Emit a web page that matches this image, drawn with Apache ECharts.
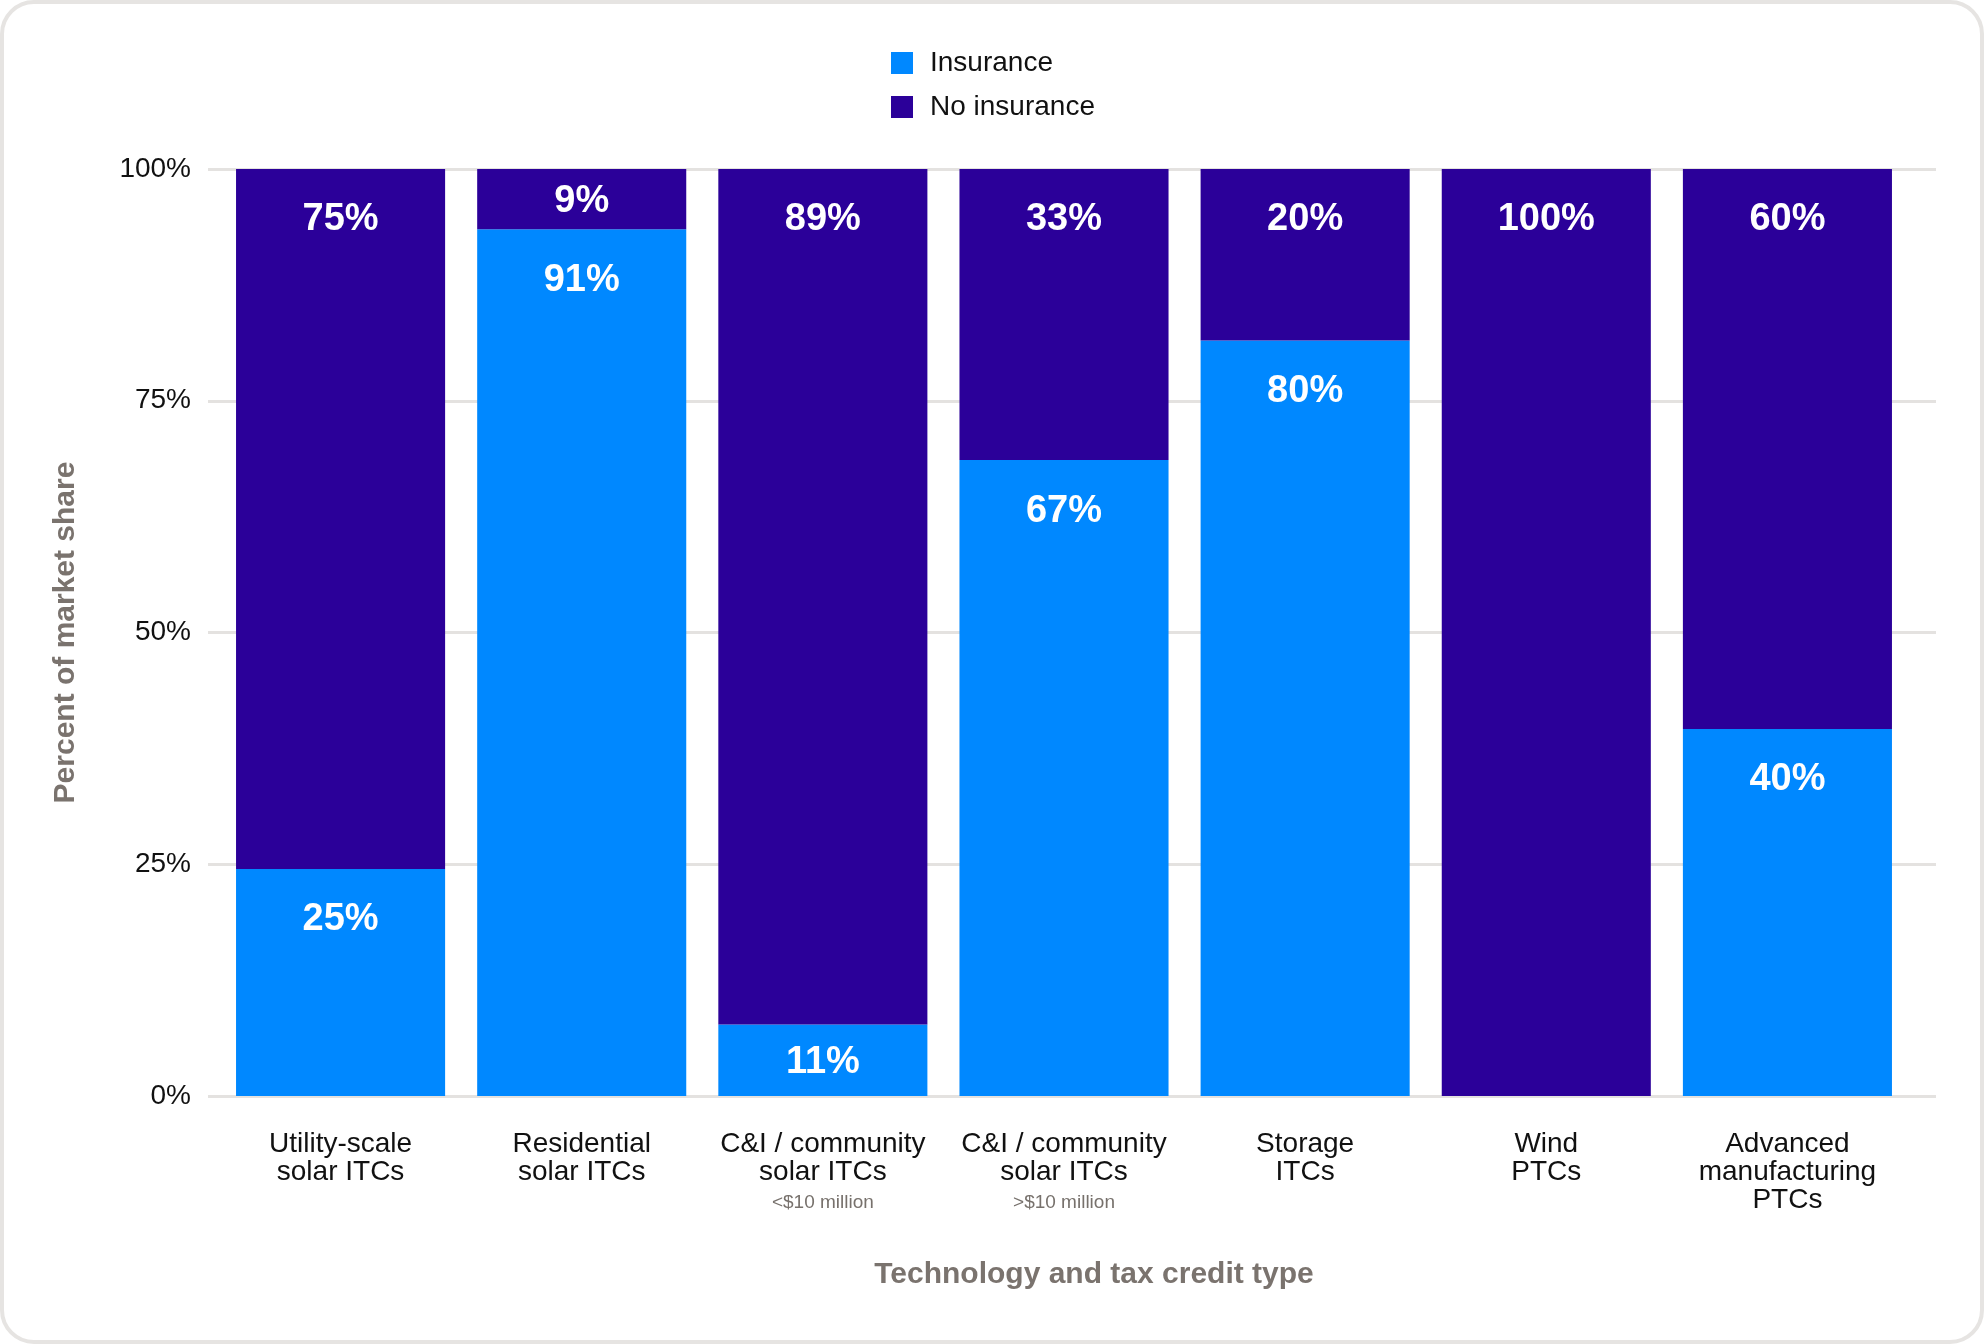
<!DOCTYPE html>
<html>
<head>
<meta charset="utf-8">
<script src="https://cdn.jsdelivr.net/npm/echarts@6/dist/echarts.min.js"></script>
<style>
html,body{margin:0;padding:0;background:#fff;}
#chart{width:1984px;height:1344px;}
</style>
</head>
<body>
<div id="chart"></div>
<script>
const categories = [
  "Utility-scale\nsolar ITCs",
  "Residential\nsolar ITCs",
  "C&I / community\nsolar ITCs",
  "C&I / community\nsolar ITCs",
  "Storage\nITCs",
  "Wind\nPTCs",
  "Advanced\nmanufacturing\nPTCs"
];
const categorySubtitles = ["", "", "<$10 million", ">$10 million", "", "", ""];
const insurance = [24.5, 93.5, 7.7, 68.6, 81.5, 0, 39.6];
const noInsurance = [75.5, 6.5, 92.3, 31.4, 18.5, 100, 60.4];
const insuranceLabels = ["25%", "91%", "11%", "67%", "80%", "", "40%"];
const noInsuranceLabels = ["75%", "9%", "89%", "33%", "20%", "100%", "60%"];
const yTicks = [0, 25, 50, 75, 100];
const seriesNames = ["Insurance", "No insurance"];

const FONT = '"Liberation Sans", Arial, Helvetica, sans-serif';
const C_INS = '#0088FF';
const C_NO = '#2B0099';

function buildData(values, labels) {
  return values.map((v, i) => ({
    value: v,
    label: v < 15
      ? {formatter: labels[i], position: 'inside', offset: [0, 2]}
      : {formatter: labels[i], position: 'insideTop'}
  }));
}

const chart = echarts.init(document.getElementById('chart'), null, {renderer: 'canvas'});
const option = {
  backgroundColor: '#fff',
  animation: false,
  graphic: [{
    type: 'rect',
    shape: {x: 2, y: 2, width: 1980, height: 1340, r: 32},
    style: {fill: 'none', stroke: '#e6e4e2', lineWidth: 4},
    z: -10
  }],
  legend: {
    orient: 'vertical',
    left: 886,
    top: 44,
    itemWidth: 22,
    itemHeight: 22,
    itemGap: 16,
    icon: 'rect',
    data: seriesNames,
    textStyle: {fontFamily: FONT, fontSize: 28, color: '#111', padding: [0, 0, 0, 12], lineHeight: 28}
  },
  grid: [
    {left: 208, right: 48, top: 169, bottom: 248},
    {left: 220, right: 76, top: 169, bottom: 248}
  ],
  xAxis: [
    {
      type: 'value', gridIndex: 0, min: 0, max: 1, show: false
    },
    {
      type: 'category', gridIndex: 1, data: categories,
      axisLine: {show: false}, axisTick: {show: false},
      axisLabel: {
        interval: 0, margin: 34,
        fontFamily: FONT, fontSize: 28, lineHeight: 28, color: '#111',
        formatter: function (value, idx) {
          const sub = categorySubtitles[idx];
          return sub ? value + '\n{sub|' + sub + '}' : value;
        },
        rich: {
          sub: {fontFamily: FONT, fontSize: 19, lineHeight: 34, color: '#77716c'}
        }
      },
      name: 'Technology and tax credit type',
      nameLocation: 'middle',
      nameGap: 164,
      nameTextStyle: {fontFamily: FONT, fontSize: 30, fontWeight: 'bold', color: '#7a736e', padding: [0, 0, 0, 60]}
    }
  ],
  yAxis: [
    {
      type: 'value', gridIndex: 0, min: 0, max: 100, interval: 25,
      axisLine: {show: false}, axisTick: {show: false},
      splitLine: {show: true, lineStyle: {color: '#e4e2e0', width: 3}},
      axisLabel: {
        margin: 17, fontFamily: FONT, fontSize: 28, color: '#111',
        formatter: v => (yTicks.indexOf(v) >= 0 ? v + '%' : '')
      },
      name: 'Percent of market share',
      nameLocation: 'middle',
      nameGap: 127,
      nameTextStyle: {fontFamily: FONT, fontSize: 30, fontWeight: 'bold', color: '#7a736e'}
    },
    {
      type: 'value', gridIndex: 1, min: 0, max: 100, interval: 25, show: false,
      splitLine: {show: false}
    }
  ],
  series: [
    {
      name: seriesNames[0], type: 'bar', stack: 'total',
      xAxisIndex: 1, yAxisIndex: 1,
      barCategoryGap: '13.3%',
      itemStyle: {color: C_INS},
      label: {show: true, distance: 32, color: '#fff', fontFamily: FONT, fontSize: 38, fontWeight: 'bold'},
      data: buildData(insurance, insuranceLabels)
    },
    {
      name: seriesNames[1], type: 'bar', stack: 'total',
      xAxisIndex: 1, yAxisIndex: 1,
      barCategoryGap: '13.3%',
      itemStyle: {color: C_NO},
      label: {show: true, distance: 32, color: '#fff', fontFamily: FONT, fontSize: 38, fontWeight: 'bold'},
      data: buildData(noInsurance, noInsuranceLabels)
    }
  ]
};
chart.setOption(option);
</script>
</body>
</html>
